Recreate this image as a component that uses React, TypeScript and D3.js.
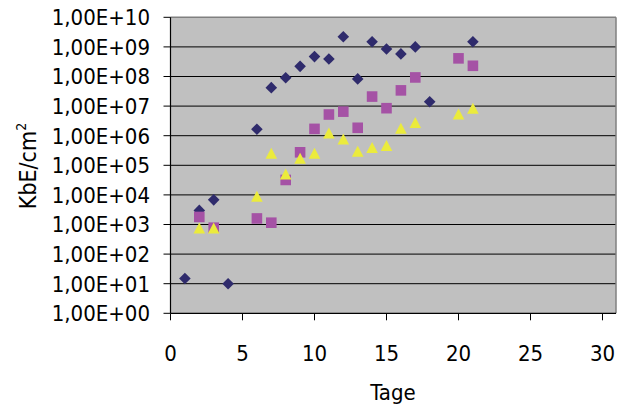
import React from "react";
import * as d3 from "d3";

const blueDays = [1, 2, 3, 4, 6, 7, 8, 9, 10, 11, 12, 13, 14, 15, 16, 17, 18, 21];
const blueValues = [15, 3000, 6800, 10, 1.66e6, 4.2e7, 9.1e7, 2.2e8, 4.7e8, 3.9e8, 2.2e9, 8.3e7, 1.5e9, 8.5e8, 5.8e8, 1.0e9, 1.4e7, 1.5e9];

const pinkDays = [2, 3, 6, 7, 8, 9, 10, 11, 12, 13, 14, 15, 16, 17, 20, 21];
const pinkValues = [1800, 780, 1600, 1150, 32000, 2.75e5, 1.7e6, 5.2e6, 6.5e6, 1.85e6, 2.1e7, 8.5e6, 3.4e7, 9.3e7, 4.1e8, 2.3e8];

const yellowDays = [2, 3, 6, 7, 8, 9, 10, 11, 12, 13, 14, 15, 16, 17, 20, 21];
const yellowValues = [710, 710, 8300, 2.35e5, 47000, 1.6e5, 2.35e5, 1.15e6, 7.1e5, 2.75e5, 3.7e5, 4.3e5, 1.65e6, 2.6e6, 5.0e6, 7.8e6];

const xTicks = [0, 5, 10, 15, 20, 25, 30];
const yTicks = [1, 1e1, 1e2, 1e3, 1e4, 1e5, 1e6, 1e7, 1e8, 1e9, 1e10];
const yTickLabels = ["1,00E+00", "1,00E+01", "1,00E+02", "1,00E+03", "1,00E+04", "1,00E+05", "1,00E+06", "1,00E+07", "1,00E+08", "1,00E+09", "1,00E+10"];

const FONT = "'DejaVu Sans Condensed', 'DejaVu Sans', sans-serif";

export default function App() {
  const left = 170.5;
  const right = 616;
  const top = 17.3;
  const bottom = 313.3;
  const x = d3.scaleLinear().domain([0, 31]).range([left, left + 14.4 * 31]);
  const y = d3.scaleLog().domain([1, 1e10]).range([bottom, top]);

  const diamond = (cx: number, cy: number) =>
    `M${cx},${cy - 5.8}L${cx + 5.8},${cy}L${cx},${cy + 5.8}L${cx - 5.8},${cy}Z`;
  const square = (cx: number, cy: number) =>
    `M${cx - 5.3},${cy - 5.3}h10.6v10.6h-10.6Z`;
  const triangle = (cx: number, cy: number) =>
    `M${cx},${cy - 6.5}L${cx + 5.8},${cy + 4.5}L${cx - 5.8},${cy + 4.5}Z`;

  return (
    <svg width={627} height={409} style={{ position: "absolute", left: 0, top: 0, background: "#fff" }}>
      <rect x={left} y={top} width={right - left} height={bottom - top} fill="#c0c0c0" />
      {yTicks.slice(1).map((t) => (
        <line key={"g" + t} x1={left} x2={right} y1={y(t)} y2={y(t)} stroke={t === 1e10 ? "#808080" : "#000"} strokeWidth={t === 1e10 ? 1.5 : 1} />
      ))}
      <line x1={right} x2={right} y1={top} y2={bottom} stroke="#808080" strokeWidth={1.5} />
      <line x1={left} x2={left} y1={top} y2={bottom} stroke="#000" strokeWidth={1.2} />
      <line x1={left} x2={right} y1={bottom} y2={bottom} stroke="#000" strokeWidth={1.2} />
      {yTicks.map((t, i) => (
        <g key={"yt" + t}>
          <line x1={left - 7} x2={left} y1={y(t)} y2={y(t)} stroke="#000" />
          <text x={150} y={y(t)} dy="0.36em" textAnchor="end" fontFamily={FONT} fontSize={22} fill="#000">
            {yTickLabels[i]}
          </text>
        </g>
      ))}
      {xTicks.map((t) => (
        <g key={"xt" + t}>
          <line x1={x(t)} x2={x(t)} y1={bottom} y2={bottom + 7} stroke="#000" />
          <text x={x(t)} y={361} textAnchor="middle" fontFamily={FONT} fontSize={22} fill="#000">
            {t}
          </text>
        </g>
      ))}
      <text x={393} y={400} textAnchor="middle" fontFamily={FONT} fontSize={22} fill="#000">
        Tage
      </text>
      <text transform="translate(36,166) rotate(-90)" textAnchor="middle" fontFamily={FONT} fontSize={23} fill="#000">
        KbE/cm<tspan dy="-10" fontSize={14}>2</tspan>
      </text>
      {blueDays.map((d, i) => (
        <path key={"b" + i} d={diamond(x(d), y(blueValues[i]))} fill="#2f2b6c" />
      ))}
      {pinkDays.map((d, i) => (
        <path key={"p" + i} d={square(x(d), y(pinkValues[i]))} fill="#a552a5" />
      ))}
      {yellowDays.map((d, i) => (
        <path key={"y" + i} d={triangle(x(d), y(yellowValues[i]))} fill="#ebeb3c" />
      ))}
    </svg>
  );
}
